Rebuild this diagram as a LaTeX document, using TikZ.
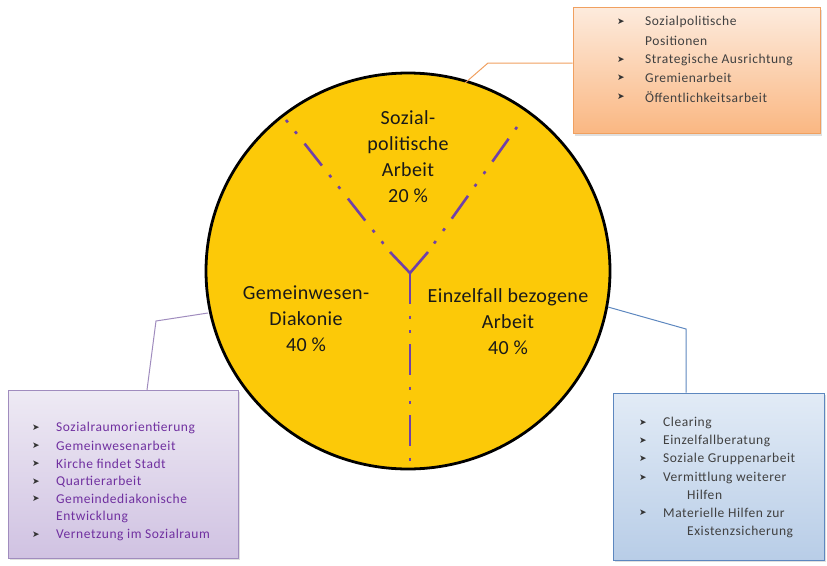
\documentclass[tikz,border=0pt]{standalone}
\usepackage{fontspec}
\setmainfont{Carlito}
\newfontfamily\boxfont[LetterSpace=4]{Carlito}
\newfontfamily\bigfont[LetterSpace=2]{Carlito}
\newfontfamily\dejavu{DejaVu Sans}
\usetikzlibrary{shadows,shapes.geometric}
\definecolor{circfill}{HTML}{FCC908}
\definecolor{ypurple}{HTML}{7040A8}
\definecolor{orbord}{HTML}{F0A060}
\definecolor{ortop}{HTML}{FDEBDD}
\definecolor{orbot}{HTML}{FAB782}
\definecolor{pubord}{HTML}{A08CBE}
\definecolor{putop}{HTML}{EEEAF4}
\definecolor{pubot}{HTML}{D0C2E2}
\definecolor{blbord}{HTML}{5D87BF}
\definecolor{bltop}{HTML}{E2EBF6}
\definecolor{blbot}{HTML}{B8CDE7}
\definecolor{putext}{HTML}{7030A0}
\definecolor{graytext}{HTML}{404040}
\tikzset{
  ylineA/.style={ypurple, line width=2.6pt, dash pattern=on 3pt off 11.5pt on 3pt off 12.5pt on 28pt off 12pt},
  ylineB/.style={ypurple, line width=2.6pt, dash pattern=on 3pt off 11.5pt on 28pt off 12pt on 3pt off 12.5pt},
  ylineC/.style={ypurple, line width=2.6pt, dash pattern=on 31pt off 11.5pt on 3pt off 11.5pt on 3pt off 11pt},
  infobox/.style={draw, line width=1pt, drop shadow={shadow xshift=2pt, shadow yshift=-2pt, opacity=0.25}},
  bigtext/.style={align=center, font=\bigfont\fontsize{20}{26}\selectfont, text=black!90},
  item/.style={anchor=west, font=\boxfont\fontsize{13.5}{15}\selectfont, inner sep=0pt},
  bul/.style={anchor=center, font=\dejavu\fontsize{9}{11}\selectfont, inner sep=0pt, text=black!80},
}
\begin{document}
\begin{tikzpicture}[x=1pt, y=-1pt]
\useasboundingbox (0,0) rectangle (827,565);
% circle
\node[draw=black, line width=2.8pt, fill=circfill, ellipse, minimum width=404pt, minimum height=396pt, inner sep=0pt] (circ) at (408,271) {};
% Y lines
\coordinate (j) at (410,273);
\coordinate (tl) at (286,120);
\coordinate (tr) at (517,127);
\coordinate (bt) at (410,468);
\coordinate (jl) at (390,252);
\coordinate (jr) at (428,252);
\draw[ypurple, line width=2.6pt] (jl) -- (j) -- (jr);
\draw[ylineA] (tl) -- (jl);
\draw[ylineB] (tr) -- (jr);
\draw[ylineC] (j) -- (bt);
% labels in circle
\node[bigtext] (lsp) at (408,157) {Sozial-\\politische\\Arbeit\\20 \%};
\node[bigtext] (lgw) at (306,319) {Gemeinwesen-\\Diakonie\\40 \%};
\node[bigtext] (lef) at (508,322) {Einzelfall bezogene\\Arbeit\\40 \%};
% boxes
\node[infobox, draw=orbord, top color=ortop, bottom color=orbot, minimum width=247pt, minimum height=126pt, inner sep=0pt] (bor) at (696.5,70.5) {};
\node[infobox, draw=pubord, top color=putop, bottom color=pubot, minimum width=230pt, minimum height=168pt, inner sep=0pt] (bpu) at (123,474) {};
\node[infobox, draw=blbord, top color=bltop, bottom color=blbot, minimum width=211pt, minimum height=167pt, inner sep=0pt] (bbl) at (718.5,476.5) {};
% connectors
\coordinate (cor1) at (465,83);
\coordinate (cor2) at (488,63);
\draw[orbord, line width=1pt] (cor1) -- (cor2) -- (cor2 -| bor.west);
\coordinate (cpu1) at (208,313);
\coordinate (cpu2) at (156,321);
\coordinate (cpu3) at (147,390);
\draw[pubord, line width=1pt] (cpu1) -- (cpu2) -- (cpu3);
\coordinate (cbl1) at (608,307);
\coordinate (cbl2) at (686,329);
\draw[blbord, line width=1pt] (cbl1) -- (cbl2) -- (cbl2 |- bbl.north);
% orange box items
\begin{scope}[text=graytext]
\node[bul] (ob1) at (621,22) {➤};
\node[item] (ot1) at (645,22) {Sozialpolitische};
\node[item] (ot1b) at (645,41) {Positionen};
\node[bul] (ob2) at (621,60) {➤};
\node[item] (ot2) at (645,60) {Strategische Ausrichtung};
\node[bul] (ob3) at (621,78) {➤};
\node[item] (ot3) at (645,78) {Gremienarbeit};
\node[bul] (ob4) at (621,97) {➤};
\node[item] (ot4) at (645,97) {Öffentlichkeitsarbeit};
\end{scope}
% purple box items
\begin{scope}[text=putext]
\node[bul] (pb1) at (36,428) {➤};
\node[item] (pt1) at (56,428) {Sozialraumorientierung};
\node[bul] (pb2) at (36,446) {➤};
\node[item] (pt2) at (56,446) {Gemeinwesenarbeit};
\node[bul] (pb3) at (36,464) {➤};
\node[item] (pt3) at (56,464) {Kirche findet Stadt};
\node[bul] (pb4) at (36,482) {➤};
\node[item] (pt4) at (56,482) {Quartierarbeit};
\node[bul] (pb5) at (36,499) {➤};
\node[item] (pt5) at (56,499) {Gemeindediakonische};
\node[item] (pt5b) at (56,517) {Entwicklung};
\node[bul] (pb6) at (36,535) {➤};
\node[item] (pt6) at (56,535) {Vernetzung im Sozialraum};
\end{scope}
% blue box items
\begin{scope}[text=graytext]
\node[bul] (bb1) at (643,423) {➤};
\node[item] (bt1) at (663,423) {Clearing};
\node[bul] (bb2) at (643,441) {➤};
\node[item] (bt2) at (663,441) {Einzelfallberatung};
\node[bul] (bb3) at (643,459) {➤};
\node[item] (bt3) at (663,459) {Soziale Gruppenarbeit};
\node[bul] (bb4) at (643,478) {➤};
\node[item] (bt4) at (663,478) {Vermittlung weiterer};
\node[item] (bt4b) at (687,495) {Hilfen};
\node[bul] (bb5) at (643,513) {➤};
\node[item] (bt5) at (663,513) {Materielle Hilfen zur};
\node[item] (bt5b) at (687,532) {Existenzsicherung};
\end{scope}
\end{tikzpicture}
\end{document}
